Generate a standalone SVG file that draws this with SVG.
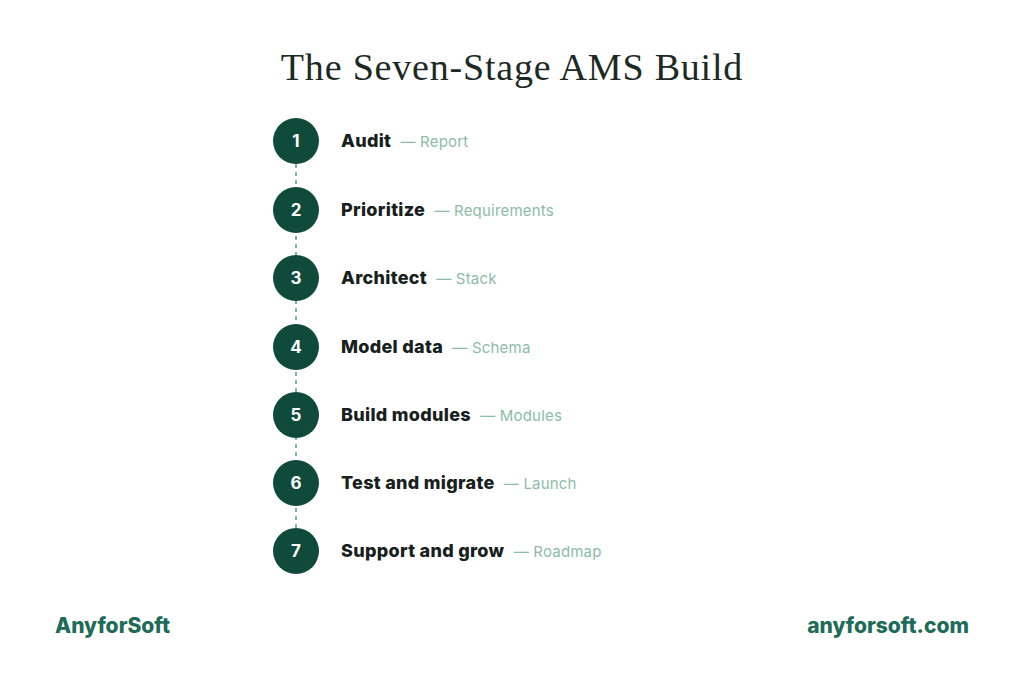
<svg xmlns="http://www.w3.org/2000/svg" width="1024" height="687" viewBox="0 0 1024 687">
<style>
.c{fill:#0f4a3a}
.n{font-family:"Inter","Liberation Sans",sans-serif;font-weight:700;font-size:17px;fill:#fff;text-anchor:middle}
.t{font-family:"Inter","Liberation Sans",sans-serif;font-weight:800;font-size:18px;fill:#16201c;letter-spacing:0.3px}
.s{font-family:"Inter","Liberation Sans",sans-serif;font-weight:400;font-size:15px;fill:#8dbba9;letter-spacing:0.2px}
.f{font-family:"Inter","Liberation Sans",sans-serif;font-weight:800;font-size:21px;fill:#1d6b58}
</style>
<rect width="1024" height="687" fill="#fff"/>
<text x="512" y="80" text-anchor="middle" font-family="Liberation Serif,serif" font-size="38" letter-spacing="0.8" fill="#1c2a25">The Seven-Stage AMS Build</text>
<g id="connectors" stroke="#7fb0a0" stroke-width="2" stroke-dasharray="4,4">
<line x1="296" y1="164" x2="296" y2="528"/>
</g>
<g id="n1"><circle class="c" cx="296" cy="141" r="23"/><text class="n" x="296" y="147">1</text><text class="t" x="341" y="147">Audit <tspan class="s" dx="5">— Report</tspan></text></g>
<g id="n2"><circle class="c" cx="296" cy="210" r="23"/><text class="n" x="296" y="216">2</text><text class="t" x="341" y="216">Prioritize <tspan class="s" dx="5">— Requirements</tspan></text></g>
<g id="n3"><circle class="c" cx="296" cy="278" r="23"/><text class="n" x="296" y="284">3</text><text class="t" x="341" y="284">Architect <tspan class="s" dx="5">— Stack</tspan></text></g>
<g id="n4"><circle class="c" cx="296" cy="347" r="23"/><text class="n" x="296" y="353">4</text><text class="t" x="341" y="353">Model data <tspan class="s" dx="5">— Schema</tspan></text></g>
<g id="n5"><circle class="c" cx="296" cy="415" r="23"/><text class="n" x="296" y="421">5</text><text class="t" x="341" y="421">Build modules <tspan class="s" dx="5">— Modules</tspan></text></g>
<g id="n6"><circle class="c" cx="296" cy="483" r="23"/><text class="n" x="296" y="489">6</text><text class="t" x="341" y="489">Test and migrate <tspan class="s" dx="5">— Launch</tspan></text></g>
<g id="n7"><circle class="c" cx="296" cy="551" r="23"/><text class="n" x="296" y="557">7</text><text class="t" x="341" y="557">Support and grow <tspan class="s" dx="5">— Roadmap</tspan></text></g>
<text class="f" x="55" y="633">AnyforSoft</text>
<text class="f" x="969" y="633" text-anchor="end">anyforsoft.com</text>
</svg>
